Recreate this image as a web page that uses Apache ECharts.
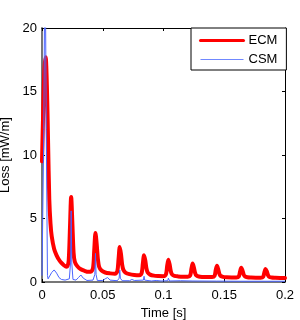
<!DOCTYPE html>
<html>
<head>
<meta charset="utf-8">
<script src="https://cdn.jsdelivr.net/npm/echarts@6/dist/echarts.min.js"></script>
<style>html,body{margin:0;padding:0;background:#fff}#c{width:300px;height:320px}</style>
</head>
<body>
<div id="c"></div>
<script>
var seriesNames = ['ECM', 'CSM'];
var xTicks = [0, 0.05, 0.1, 0.15, 0.2];
var yTicks = [0, 5, 10, 15, 20];
var ecmT = [0,0.001,0.002,0.003,0.004,0.005,0.006,0.007,0.008,0.010,0.012,0.014,0.016,0.018,0.020,0.021,0.022,0.023,0.024,0.025,0.026,0.027,0.029,0.032,0.035,0.038,0.040,0.042,0.043,0.044,0.045,0.046,0.047,0.049,0.052,0.056,0.060,0.062,0.063,0.064,0.065,0.066,0.067,0.069,0.072,0.076,0.080,0.082,0.083,0.084,0.085,0.086,0.087,0.089,0.092,0.096,0.100,0.102,0.103,0.104,0.105,0.106,0.107,0.109,0.112,0.116,0.120,0.122,0.123,0.124,0.125,0.126,0.127,0.129,0.132,0.136,0.140,0.142,0.143,0.144,0.145,0.146,0.147,0.149,0.152,0.156,0.160,0.162,0.163,0.164,0.165,0.166,0.167,0.169,0.172,0.176,0.180,0.182,0.183,0.184,0.185,0.186,0.187,0.189,0.192,0.196,0.200];
var ecmV = [9.5,13.5,16.8,17.7,15.5,11.0,6.5,4.6,3.6,2.6,2.1,1.75,1.5,1.32,1.2,1.25,1.7,4.2,6.7,4.6,2.3,1.6,1.25,1.0,0.88,0.8,0.8,1.1,2.5,3.85,3.0,1.8,1.2,0.9,0.75,0.68,0.65,0.85,1.8,2.75,2.2,1.35,0.95,0.72,0.62,0.56,0.54,0.7,1.45,2.1,1.7,1.05,0.75,0.58,0.5,0.47,0.46,0.6,1.25,1.75,1.4,0.85,0.6,0.48,0.44,0.42,0.42,0.52,1.05,1.45,1.15,0.72,0.52,0.43,0.4,0.39,0.39,0.48,0.95,1.28,1.02,0.64,0.48,0.4,0.37,0.36,0.36,0.44,0.82,1.12,0.92,0.58,0.44,0.37,0.35,0.34,0.34,0.41,0.75,1.02,0.84,0.54,0.41,0.35,0.33,0.32,0.32];
var csmT = [0,0.0015,0.0025,0.0035,0.0045,0.005,0.006,0.008,0.010,0.012,0.014,0.016,0.019,0.0225,0.0235,0.024,0.0245,0.0255,0.028,0.030,0.032,0.034,0.037,0.042,0.0435,0.044,0.0445,0.0455,0.050,0.052,0.054,0.056,0.062,0.0635,0.064,0.0645,0.066,0.072,0.074,0.076,0.0835,0.084,0.0845,0.090,0.094,0.098,0.1035,0.104,0.105,0.114,0.1235,0.124,0.125,0.1435,0.144,0.145,0.1635,0.164,0.165,0.1835,0.184,0.185,0.200];
var csmV = [0.5,12,28,12,0.5,0.25,0.3,0.75,0.95,0.7,0.35,0.2,0.15,0.25,1.5,5.6,1.5,0.2,0.15,0.35,0.55,0.3,0.12,0.15,0.6,2.25,0.6,0.12,0.12,0.25,0.35,0.15,0.1,0.3,0.95,0.3,0.1,0.1,0.2,0.12,0.15,0.45,0.15,0.08,0.12,0.08,0.1,0.3,0.08,0.1,0.08,0.15,0.07,0.07,0.12,0.06,0.06,0.1,0.06,0.06,0.09,0.06,0.06];

function zip(a, b) { return a.map(function (t, i) { return [t, b[i]]; }); }
var FONT = 'Liberation Sans, Arial, Helvetica, sans-serif';
var RED = '#ff0000', BLUE = '#4a64ff', BLUE_LEG = '#7088ff';
var chart = echarts.init(document.getElementById('c'), null, {renderer: 'canvas'});
function fmtX(v) { var i = xTicks.indexOf(+v.toFixed(4)); return i >= 0 ? String(xTicks[i]) : ''; }
function fmtY(v) { var i = yTicks.indexOf(Math.round(v)); return i >= 0 ? String(yTicks[i]) : ''; }
chart.setOption({
  animation: false,
  backgroundColor: '#fff',
  grid: {left: 42, right: 15, top: 28, bottom: 38, containLabel: false, outerBoundsMode: 'none'},
  legend: {
    orient: 'vertical', left: 191, top: 28,
    padding: [6, 9, 4, 8], itemGap: 6, itemWidth: 43, itemHeight: 14,
    borderColor: '#000', borderWidth: 1, backgroundColor: '#fff', borderRadius: 0,
    textStyle: {fontFamily: FONT, fontSize: 13, color: '#000'},
    data: [
      {name: seriesNames[0], itemStyle: {color: RED, opacity: 0}, lineStyle: {color: RED, width: 3, opacity: 1}},
      {name: seriesNames[1], itemStyle: {color: BLUE_LEG, opacity: 0}, lineStyle: {color: BLUE_LEG, width: 1.2, opacity: 1}}
    ]
  },
  xAxis: [{
    type: 'value', min: 0, max: 0.2, interval: 0.05,
    name: 'Time [s]', nameLocation: 'middle', nameGap: 20,
    nameTextStyle: {fontFamily: FONT, fontSize: 13, color: '#000'},
    axisLine: {onZero: false, lineStyle: {color: '#777', width: 2}},
    axisTick: {inside: true, length: 3, lineStyle: {color: '#000'}},
    axisLabel: {fontFamily: FONT, fontSize: 13, color: '#000', margin: 7, formatter: fmtX},
    splitLine: {show: false}
  }, {
    type: 'value', min: 0, max: 0.2, interval: 0.05, position: 'top',
    axisLine: {onZero: false, lineStyle: {color: '#000', width: 1}},
    axisTick: {inside: true, length: 3, lineStyle: {color: '#000'}},
    axisLabel: {show: false}, splitLine: {show: false}
  }],
  yAxis: [{
    type: 'value', min: 0, max: 20, interval: 5,
    name: 'Loss [mW/m]', nameLocation: 'middle', nameGap: 25,
    nameTextStyle: {fontFamily: FONT, fontSize: 13, color: '#000'},
    axisLine: {onZero: false, lineStyle: {color: '#777', width: 2}},
    axisTick: {inside: true, length: 3, lineStyle: {color: '#000'}},
    axisLabel: {fontFamily: FONT, fontSize: 13, color: '#000', margin: 5, formatter: fmtY},
    splitLine: {show: false}
  }, {
    type: 'value', min: 0, max: 20, interval: 5, position: 'right',
    axisLine: {onZero: false, lineStyle: {color: '#000', width: 1}},
    axisTick: {inside: true, length: 3, lineStyle: {color: '#000'}},
    axisLabel: {show: false}, splitLine: {show: false}
  }],
  series: [{
    name: seriesNames[0], type: 'line', data: zip(ecmT, ecmV), symbol: 'none', clip: true, smooth: 0.3,
    lineStyle: {color: RED, width: 4, join: 'round', cap: 'round'}, itemStyle: {color: RED}, z: 2
  }, {
    name: seriesNames[1], type: 'line', data: zip(csmT, csmV), symbol: 'none', clip: true,
    lineStyle: {color: BLUE, width: 1}, itemStyle: {color: BLUE}, z: 3
  }]
});
</script>
</body>
</html>
